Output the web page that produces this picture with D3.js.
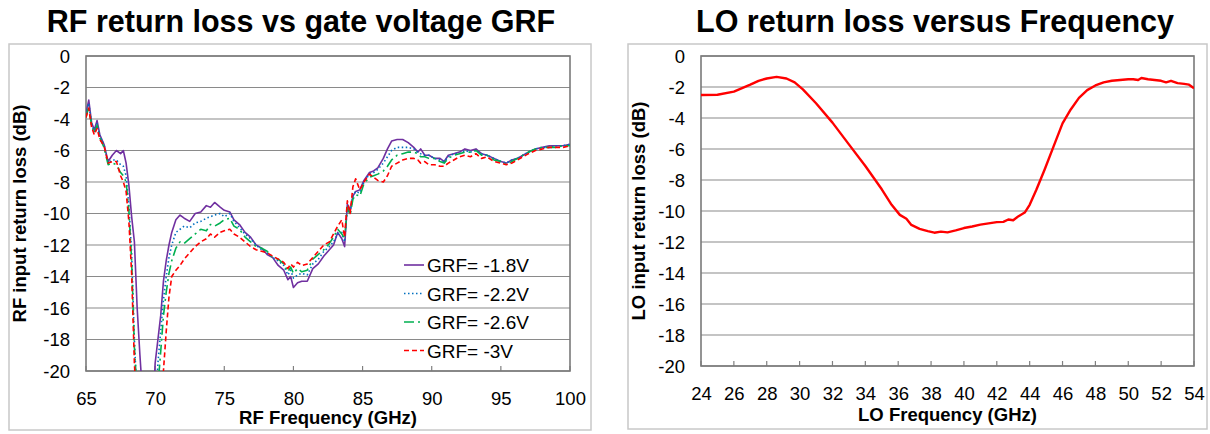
<!DOCTYPE html>
<html>
<head>
<meta charset="utf-8">
<script src="https://d3js.org/d3.v7.min.js"></script>
<style>
  body { margin: 0; background: #fff; }
  text { font-family: "Liberation Sans", Arial, sans-serif; fill: #000; }
</style>
</head>
<body>
<div id="visHolder"></div>
<script>
// ---- RF chart data (GHz, dB) ----
const rfFreq = [65, 65.2, 65.4, 65.6, 65.8, 66, 66.3, 66.6, 66.9, 67.2, 67.5, 67.7, 67.9, 68.1, 68.3, 68.5, 68.7, 68.9,
  69.2, 69.5, 69.8, 70, 70.2, 70.4, 70.6, 70.8, 71, 71.2, 71.5, 71.8, 72.1, 72.5, 72.9, 73.3, 73.7, 74, 74.3, 74.7,
  75, 75.4, 75.7, 76.1, 76.5, 76.9, 77.3, 77.7, 78.1, 78.5, 78.9, 79.3, 79.6, 79.8, 80, 80.3, 80.6, 81, 81.4, 81.8,
  82.2, 82.6, 82.9, 83.2, 83.5, 83.7, 83.9, 84.1, 84.3, 84.5, 84.8, 85.1, 85.5, 85.8, 86.1, 86.5, 86.8, 87.1, 87.5,
  87.9, 88.3, 88.7, 89, 89.2, 89.5, 89.8, 90.2, 90.6, 90.9, 91.2, 91.6, 92, 92.4, 92.8, 93.2, 93.6, 94, 94.5, 95,
  95.4, 95.8, 96.2, 96.6, 97, 97.5, 98, 98.5, 99, 99.5, 100];

const grf18 = [-3.6, -2.8, -4.2, -4.7, -4.1, -5.0, -5.6, -6.7, -6.3, -6.0, -6.2, -6.0, -6.8, -8.2, -10.2, -11.8, -16.0, -19.0,
  -23, -27, -24, -19.5, -18.0, -16.5, -14.3, -13.0, -12.0, -11.2, -10.4, -10.1, -10.3, -10.5, -10.0, -9.9, -9.5, -9.6, -9.3, -9.6,
  -9.8, -9.9, -10.4, -10.7, -11.2, -11.5, -12.0, -12.2, -12.6, -12.8, -13.3, -13.6, -14.2, -14.0, -14.7, -14.4, -14.3, -14.3, -13.5, -13.2,
  -12.7, -12.3, -12.0, -11.2, -11.6, -12.1, -9.4, -9.8, -8.9, -8.6, -8.5, -7.9, -7.4, -7.3, -7.1, -6.5, -5.9, -5.4, -5.3,
  -5.3, -5.5, -5.8, -6.1, -5.9, -6.3, -6.3, -6.5, -6.5, -6.7, -6.3, -6.2, -6.1, -5.9, -6.0, -5.9, -6.2, -6.3, -6.5, -6.7,
  -6.8, -6.6, -6.5, -6.3, -6.1, -5.9, -5.8, -5.7, -5.7, -5.7, -5.6];

const grf22 = [-3.7, -3.0, -4.3, -4.8, -4.3, -5.1, -5.6, -6.8, -6.6, -6.6, -6.9, -7.0, -7.6, -9.5, -12.5, -18.0, -22, -26,
  -28, -28, -26, -23, -19.5, -17.5, -15.5, -14.0, -12.8, -12.0, -11.2, -11.0, -10.8, -10.9, -10.6, -10.5, -10.3, -10.2, -10.1, -10.0,
  -10.2, -10.0, -10.5, -10.9, -11.3, -11.6, -12.0, -12.3, -12.5, -12.8, -13.0, -13.3, -13.9, -13.6, -14.1, -13.9, -13.8, -13.9, -13.2, -12.9,
  -12.4, -12.1, -11.8, -11.3, -11.2, -11.8, -9.5, -10.0, -8.9, -8.6, -8.7, -8.0, -7.5, -7.4, -7.2, -6.8, -6.4, -6.0, -5.8,
  -5.8, -5.8, -5.9, -6.1, -6.2, -6.3, -6.3, -6.5, -6.6, -6.7, -6.4, -6.2, -6.2, -6.0, -6.1, -6.0, -6.2, -6.3, -6.5, -6.7,
  -6.8, -6.6, -6.5, -6.3, -6.1, -5.9, -5.8, -5.8, -5.7, -5.7, -5.6];

const grf26 = [-3.9, -3.2, -4.4, -4.9, -4.4, -5.2, -5.8, -6.9, -6.8, -6.9, -7.4, -7.6, -8.0, -9.8, -13.0, -18.5, -21.5, -26,
  -28, -28, -27, -25, -21, -18.8, -16.5, -15.0, -13.8, -13.0, -12.2, -11.8, -11.9, -11.6, -11.3, -11.0, -11.1, -10.7, -10.8, -10.6,
  -10.4, -10.3, -10.8, -11.0, -11.5, -11.8, -12.1, -12.2, -12.4, -12.8, -12.9, -13.2, -13.7, -13.4, -13.8, -13.5, -13.7, -13.6, -12.9, -12.6,
  -12.3, -11.9, -11.5, -11.0, -11.3, -11.6, -9.6, -10.1, -9.1, -8.8, -8.9, -8.1, -7.7, -7.6, -7.5, -7.3, -7.0, -6.6, -6.3,
  -6.2, -6.1, -6.1, -6.2, -6.4, -6.4, -6.5, -6.5, -6.7, -6.8, -6.5, -6.3, -6.2, -6.1, -6.1, -6.0, -6.3, -6.3, -6.6, -6.7,
  -6.9, -6.7, -6.5, -6.3, -6.1, -5.9, -5.8, -5.8, -5.8, -5.7, -5.7];

const grf30 = [-3.9, -3.3, -4.5, -5.0, -4.6, -5.3, -5.7, -6.8, -6.7, -6.7, -7.6, -8.0, -8.6, -10.5, -13.8, -19.5, -23, -27,
  -28, -28, -28, -27, -25, -22.5, -20.0, -17.5, -15.3, -14.0, -13.6, -13.3, -12.9, -12.5, -12.1, -11.8, -11.6, -11.3, -11.5, -11.2,
  -11.1, -11.0, -11.3, -11.5, -11.8, -12.1, -12.3, -12.4, -12.5, -12.7, -12.9, -13.1, -13.5, -13.2, -13.4, -13.1, -13.3, -13.2, -12.8, -12.4,
  -12.0, -11.8, -11.3, -10.8, -10.4, -11.5, -9.2, -10.0, -8.3, -7.8, -8.5, -8.0, -7.5, -7.7, -7.9, -8.0, -7.6, -7.0, -6.8,
  -6.6, -6.5, -6.5, -6.6, -6.8, -6.7, -6.9, -6.9, -7.0, -7.0, -6.8, -6.6, -6.4, -6.3, -6.4, -6.2, -6.5, -6.4, -6.7, -6.8,
  -6.9, -6.8, -6.6, -6.4, -6.2, -6.0, -5.9, -5.8, -5.8, -5.8, -5.7];

const rfLabels = ["GRF= -1.8V", "GRF= -2.2V", "GRF= -2.6V", "GRF= -3V"];
const rfColors = ["#7030A0", "#0070C0", "#00B050", "#FF0000"];
const rfDashes = [null, "1.5,2.5", "10,4,2,4", "5,3"];
const rfXTicks = [65, 70, 75, 80, 85, 90, 95, 100];

// ---- LO chart data ----
const loFreq = [24, 25, 26, 27, 27.5, 28, 28.6, 29.2, 29.7, 30.2, 31, 32, 33, 34, 35, 35.6, 36.1, 36.5, 36.8, 37.3,
  37.8, 38.2, 38.6, 39, 39.5, 40, 40.5, 41, 41.5, 42, 42.4, 42.7, 43, 43.3, 43.7, 44, 44.4, 44.9, 45.45, 46,
  46.5, 47, 47.5, 48, 48.5, 49, 49.5, 50, 50.3, 50.6, 50.8, 51.2, 51.6, 52, 52.3, 52.6, 53, 53.4, 53.7, 54];
const loReturn = [-2.52, -2.5, -2.3, -1.85, -1.6, -1.45, -1.35, -1.45, -1.7, -2.15, -3.05, -4.3, -5.7, -7.1, -8.6, -9.6, -10.25, -10.5, -10.9, -11.15,
  -11.3, -11.4, -11.33, -11.38, -11.25, -11.1, -11.0, -10.88, -10.8, -10.72, -10.7, -10.55, -10.6, -10.35, -10.1, -9.6, -8.65, -7.35, -5.85, -4.35,
  -3.45, -2.7, -2.2, -1.9, -1.7, -1.6, -1.55, -1.5, -1.5, -1.55, -1.42, -1.5, -1.55, -1.6, -1.7, -1.6, -1.75, -1.8, -1.85, -2.08];
const loXTicks = d3.range(24, 55, 2);

const yTicks = d3.range(0, -21, -2);

const w = 1210;
const h = 434;

const svg = d3.select("#visHolder")
  .append("svg")
  .attr("width", w)
  .attr("height", h);

function drawChart(cfg) {
  const g = svg.append("g");

  // outer chart frame
  g.append("rect")
    .attr("x", cfg.frame[0]).attr("y", cfg.frame[1])
    .attr("width", cfg.frame[2] - cfg.frame[0]).attr("height", cfg.frame[3] - cfg.frame[1])
    .attr("fill", "none").attr("stroke", "#c8c8c8").attr("stroke-width", 1.5);

  g.append("text")
    .attr("x", cfg.titleX).attr("y", 32)
    .attr("text-anchor", "middle")
    .style("font-size", "30.5px").style("font-weight", "bold")
    .text(cfg.title);

  const xScale = d3.scaleLinear().domain(cfg.xDomain).range([cfg.left, cfg.right]);
  const yScale = d3.scaleLinear().domain([-20, 0]).range([cfg.bottom, cfg.top]);

  // gridlines
  g.selectAll(".grid")
    .data(yTicks)
    .enter()
    .append("line")
    .attr("x1", cfg.left).attr("x2", cfg.right)
    .attr("y1", (d) => yScale(d)).attr("y2", (d) => yScale(d))
    .attr("stroke", "#8a8a8a").attr("stroke-width", 1.2);

  // y labels
  g.selectAll(".ylab")
    .data(yTicks)
    .enter()
    .append("text")
    .attr("x", cfg.left - 16)
    .attr("y", (d) => yScale(d) + 6.5)
    .attr("text-anchor", "end")
    .style("font-size", "18.5px")
    .text((d) => d);

  // x axis with inward ticks
  const xAxis = d3.axisBottom(xScale)
    .tickValues(cfg.xTicks)
    .tickSize(0)
    .tickPadding(21)
    .tickFormat(d3.format("d"));
  const axisB = g.append("g")
    .attr("transform", "translate(0," + cfg.bottom + ")")
    .call(xAxis);
  axisB.select(".domain").remove();
  axisB.selectAll("text")
    .style("font-size", "18.5px")
    .style("font-family", "Liberation Sans, Arial, sans-serif")
    .attr("fill", "#000");
  g.selectAll(".xtick")
    .data(cfg.xTicks)
    .enter()
    .append("line")
    .attr("x1", (d) => xScale(d)).attr("x2", (d) => xScale(d))
    .attr("y1", cfg.bottom).attr("y2", cfg.bottom - 5)
    .attr("stroke", "#808080").attr("stroke-width", 1.2);

  // plot border
  g.append("rect")
    .attr("x", cfg.left).attr("y", cfg.top)
    .attr("width", cfg.right - cfg.left).attr("height", cfg.bottom - cfg.top)
    .attr("fill", "none").attr("stroke", "#7a7a7a").attr("stroke-width", 1.6);

  // axis titles
  g.append("text")
    .attr("x", (cfg.left + cfg.right) / 2).attr("y", cfg.xTitleY)
    .attr("text-anchor", "middle")
    .style("font-size", "18.5px").style("font-weight", "bold")
    .text(cfg.xTitle);
  g.append("text")
    .attr("transform", "translate(" + cfg.yTitleX + "," + (cfg.top + cfg.bottom) / 2 + ") rotate(-90)")
    .attr("text-anchor", "middle")
    .style("font-size", "18.5px").style("font-weight", "bold")
    .text(cfg.yTitle);

  const clipId = "clip" + cfg.left;
  svg.append("clipPath").attr("id", clipId)
    .append("rect")
    .attr("x", cfg.left).attr("y", cfg.top)
    .attr("width", cfg.right - cfg.left).attr("height", cfg.bottom - cfg.top);

  const line = d3.line()
    .x((d) => xScale(d[0]))
    .y((d) => yScale(d[1]));

  cfg.series.forEach((s) => {
    g.append("path")
      .datum(d3.zip(cfg.xData, s.values))
      .attr("clip-path", "url(#" + clipId + ")")
      .attr("fill", "none")
      .attr("stroke", s.color)
      .attr("stroke-width", s.width)
      .attr("stroke-dasharray", s.dash)
      .attr("stroke-linejoin", "round")
      .attr("d", line);
  });

  return { xScale, yScale, g };
}

const rf = drawChart({
  frame: [9, 44, 591, 430],
  title: "RF return loss vs gate voltage GRF",
  titleX: 301,
  left: 86, right: 570, top: 56, bottom: 371,
  xDomain: [65, 100],
  xTicks: rfXTicks,
  xData: rfFreq,
  xTitle: "RF Frequency (GHz)",
  xTitleY: 424,
  yTitle: "RF input return loss (dB)",
  yTitleX: 26,
  series: [grf18, grf22, grf26, grf30].map((v, i) => ({
    values: v, color: rfColors[i], dash: rfDashes[i], width: 1.6
  }))
});

// legend
const legend = rf.g.selectAll(".legend")
  .data(rfLabels)
  .enter()
  .append("g")
  .attr("transform", (d, i) => "translate(404," + (265 + i * 28.5) + ")");
legend.append("line")
  .attr("x1", 0).attr("x2", 20).attr("y1", 0).attr("y2", 0)
  .attr("stroke", (d, i) => rfColors[i])
  .attr("stroke-dasharray", (d, i) => rfDashes[i])
  .attr("stroke-width", 1.6);
legend.append("text")
  .attr("x", 23).attr("y", 7)
  .style("font-size", "19px")
  .text((d) => d);

drawChart({
  frame: [628, 44, 1207, 429],
  title: "LO return loss versus Frequency",
  titleX: 935,
  left: 701, right: 1194, top: 56, bottom: 366,
  xDomain: [24, 54],
  xTicks: loXTicks,
  xData: loFreq,
  xTitle: "LO Frequency (GHz)",
  xTitleY: 421,
  yTitle: "LO input return loss (dB)",
  yTitleX: 645,
  series: [{ values: loReturn, color: "#FF0000", dash: null, width: 2.4 }]
});
</script>
</body>
</html>
